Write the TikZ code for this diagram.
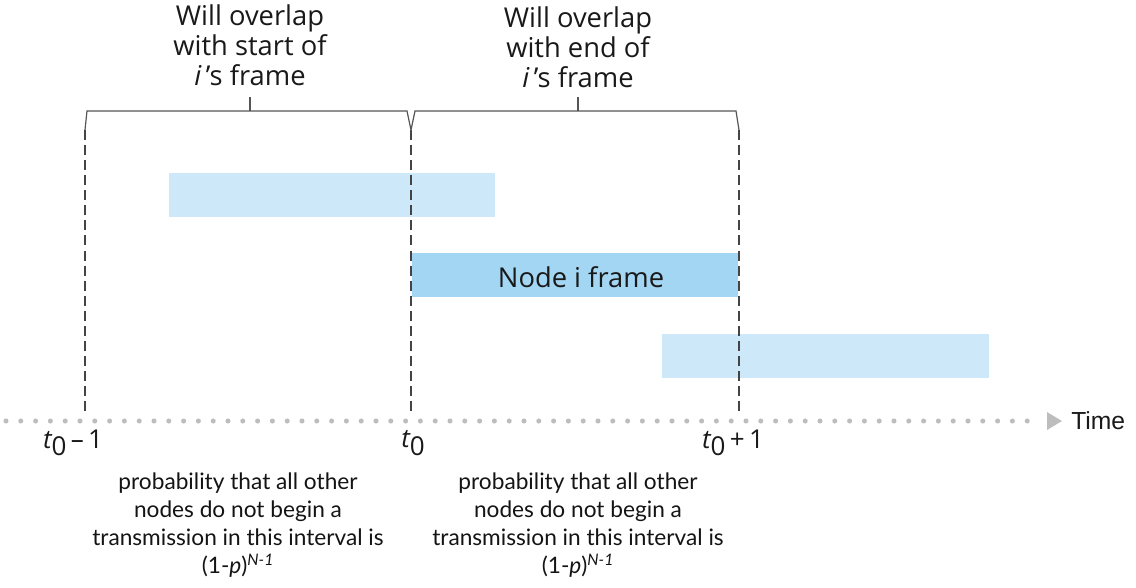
\documentclass[tikz,border=0pt]{standalone}
\usepackage{fontspec}
\setmainfont{Open Sans}
\newfontfamily\gillfont{Lato}
\newfontfamily\timefont{Liberation Sans}
\usetikzlibrary{arrows.meta}
\definecolor{barlight}{HTML}{CDE8F8}
\definecolor{barmid}{HTML}{A3D6F3}
\definecolor{dashgray}{HTML}{444444}
\definecolor{dotgray}{HTML}{BDBDBD}
\definecolor{bracegray}{HTML}{555555}
\tikzset{
  topnote/.style={align=center, inner sep=0pt, anchor=north, font=\fontsize{20.5}{22.5}\selectfont, text=black!90},
  botnote/.style={align=center, inner sep=0pt, anchor=north, font=\gillfont\fontsize{17}{21}\selectfont, text=black!92},
  bar/.style={draw=none, inner sep=0pt, minimum width=245pt, minimum height=33pt},
  guide/.style={draw=dashgray, line width=1.2pt, dash pattern=on 7.5pt off 3.8pt},
  bracket/.style={draw=bracegray, line width=0.9pt},
  axisdots/.style={draw=dotgray, line width=3.8pt, line cap=round, dash pattern=on 0pt off 11.1pt},
  tlabel/.style={inner sep=0pt, font=\fontsize{19.5}{22}\selectfont, text=black!90},
}
\begin{document}
\begin{tikzpicture}[x=0.75pt,y=-0.75pt]
\useasboundingbox (0,0) rectangle (1136,587);
% guide coordinates
\coordinate (g1t) at (85,130);  \coordinate (g1b) at (85,413);
\coordinate (g2t) at (411,130); \coordinate (g2b) at (411,413);
\coordinate (g3t) at (739,130); \coordinate (g3b) at (739,413);
% bars
\node[bar, fill=barlight] (b1) at (332,195) {};
\node[bar, fill=barmid] (frame) at (575,275) {};
\node[inner sep=0pt, font=\fontsize{20.5}{22}\selectfont, text=black!90] (framelabel) at (581,277) {Node i frame};
\node[bar, fill=barlight] (b3) at (825.5,355.5) {};
% dashed guides
\draw[guide] (g1t) -- (g1b);
\draw[guide] (g2t) -- (g2b);
\draw[guide] (g3t) -- (g3b);
% brackets
\draw[bracket] (g1t) -- (87,111) -- (407,111) -- (g2t) -- (415,111) -- (736,111) -- (g3t);
\coordinate (c1) at (250,111); \coordinate (c2) at (578,111);
\node[topnote] (n1) at (250,4) {Will overlap\\with start of\\{\itshape i}\,’s frame};
\node[topnote] (n2) at (578,6) {Will overlap\\with end of\\{\itshape i}\,’s frame};
\draw[bracket] (c1) -- (250,97);
\draw[bracket] (c2) -- (578,97);
% axis
\coordinate (ax0) at (6,421);
\coordinate (ax1) at (1040,421);
\draw[axisdots] (ax0) -- (ax1);
\fill[dotgray] (1047,412) -- (1062,421) -- (1047,430) -- cycle;
\node[font=\timefont\fontsize{18.5}{22}\selectfont, text=black!90, anchor=west, inner sep=0pt] (time) at (1071,421) {Time};
% time labels
\node[tlabel] (tm1) at (73,443) {{\itshape t}\raisebox{-0.55ex}{0}\,–\,1};
\node[tlabel] (t0) at (413,443) {{\itshape t}\raisebox{-0.55ex}{0}};
\node[tlabel] (tp1) at (733,443) {{\itshape t}\raisebox{-0.55ex}{0}\,+\,1};
% bottom notes
\node[botnote] (p1) at (238,473) {probability that all other\\nodes do not begin a\\transmission in this interval is\\(1-{\itshape p})\textsuperscript{\itshape N-1}};
\node[botnote] (p2) at (578,473) {probability that all other\\nodes do not begin a\\transmission in this interval is\\(1-{\itshape p})\textsuperscript{\itshape N-1}};
\end{tikzpicture}
\end{document}
